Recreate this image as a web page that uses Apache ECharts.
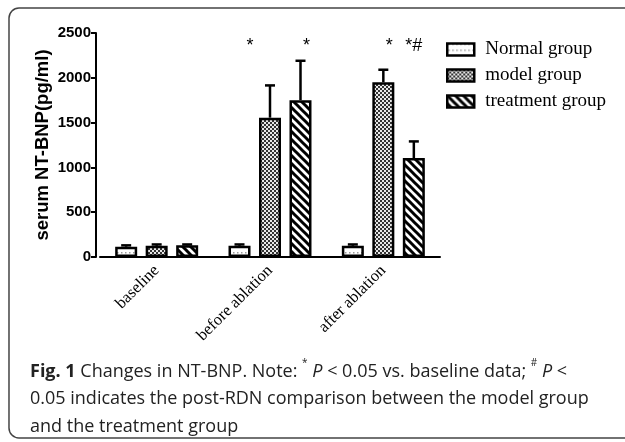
<!DOCTYPE html>
<html>
<head>
<meta charset="utf-8">
<script src="https://cdn.jsdelivr.net/npm/echarts@6/dist/echarts.min.js"></script>
<style>
    html, body { margin: 0; padding: 0; background: #fff; }
    #chart { width: 625px; height: 442px; }
</style>
</head>
<body>
<div id="chart"></div>
<script>
// data
var categories = ['baseline', 'before ablation', 'after ablation'];
var groupNames = ['Normal group', 'model group', 'treatment group'];
var normalMean = [115, 125, 125];
var normalErr = [15, 15, 15];
var modelMean = [125, 1555, 1950];
var modelErr = [15, 360, 140];
var treatMean = [130, 1750, 1105];
var treatErr = [10, 440, 185];
// significance marks, per category, per group
var sigNormal = ['', '', ''];
var sigModel = ['', '*', '*'];
var sigTreat = ['', '*', '*#'];
var yTicks = [0, 500, 1000, 1500, 2000, 2500];

function makePattern(w, h, draw) {
    var c = document.createElement('canvas');
    c.width = w;
    c.height = h;
    var ctx = c.getContext('2d');
    draw(ctx);
    return { image: c, repeat: 'repeat' };
}

var dotFill = makePattern(4, 6, function (ctx) {
    ctx.fillStyle = '#fff';
    ctx.fillRect(0, 0, 4, 6);
    ctx.fillStyle = '#999';
    ctx.fillRect(1, 0, 1.5, 1.5);
});

var checkFill = makePattern(4, 4, function (ctx) {
    ctx.fillStyle = '#e8e8e8';
    ctx.fillRect(0, 0, 4, 4);
    ctx.fillStyle = '#333';
    ctx.fillRect(0, 0, 2, 2);
    ctx.fillRect(2, 2, 2, 2);
});

var stripeFill = makePattern(8, 8, function (ctx) {
    ctx.fillStyle = '#fff';
    ctx.fillRect(0, 0, 8, 8);
    ctx.strokeStyle = '#000';
    ctx.lineWidth = 3;
    [-8, 0, 8].forEach(function (c) {
        ctx.beginPath();
        ctx.moveTo(-2, -2 + c);
        ctx.lineTo(10, 10 + c);
        ctx.stroke();
    });
});

var fills = [dotFill, checkFill, stripeFill];
var means = [normalMean, modelMean, treatMean];
var errs = [normalErr, modelErr, treatErr];
var sigs = [sigNormal, sigModel, sigTreat];
var barOffset = [-30.5, 0, 30.5];
var markShift = [[0, 0, 0], [0, -20, 6], [0, 6, 0]];

var chart = echarts.init(document.getElementById('chart'));

var series = [];
groupNames.forEach(function (name, s) {
    series.push({
        name: name,
        type: 'bar',
        barWidth: 22,
        barGap: '38.6%',
        data: means[s],
        itemStyle: { color: fills[s], borderColor: '#000', borderWidth: 2.5 },
        z: 2
    });
});

groupNames.forEach(function (name, s) {
    series.push({
        type: 'custom',
        z: 3,
        silent: true,
        data: means[s].map(function (m, i) { return [i, m, errs[s][i]]; }),
        renderItem: function (params, api) {
            var cat = api.value(0);
            var m = api.value(1);
            var e = api.value(2);
            var x = api.coord([cat, 0])[0] + barOffset[s];
            var yBase = api.coord([cat, m])[1];
            var yTop = api.coord([cat, m + e])[1];
            var st = { stroke: '#000', lineWidth: 2.5 };
            return {
                type: 'group',
                children: [
                    { type: 'line', shape: { x1: x, y1: yBase, x2: x, y2: yTop }, style: st },
                    { type: 'line', shape: { x1: x - 5, y1: yTop, x2: x + 5, y2: yTop }, style: st }
                ]
            };
        }
    });
});

// significance marks
groupNames.forEach(function (name, s) {
    series.push({
        type: 'custom',
        z: 4,
        silent: true,
        data: sigs[s].map(function (t, i) { return [i, 2350]; }),
        renderItem: function (params, api) {
            var cat = api.value(0);
            var p = api.coord([cat, api.value(1)]);
            var t = sigs[s][cat];
            if (!t) return null;
            return {
                type: 'text',
                x: p[0] + barOffset[s] + markShift[cat][s],
                y: p[1],
                style: {
                    text: t,
                    fill: '#000',
                    font: '18px "Liberation Sans", Arial, sans-serif',
                    align: 'center',
                    verticalAlign: 'middle'
                }
            };
        }
    });
});

var option = {
    animation: false,
    backgroundColor: '#fff',
    grid: { left: 100, right: 185, top: 33, bottom: 185 },
    legend: {
        data: groupNames,
        orient: 'vertical',
        left: 441,
        top: 35,
        icon: 'rect',
        itemWidth: 27,
        itemHeight: 12,
        itemGap: 7,
        itemStyle: { borderColor: '#000', borderWidth: 2.5 },
        textStyle: { fontFamily: '"Liberation Serif", "Times New Roman", serif', fontSize: 19, color: '#000', padding: [0, 0, 0, 6] }
    },
    xAxis: {
        type: 'category',
        data: categories,
        axisLine: { lineStyle: { color: '#000', width: 2 } },
        axisTick: { alignWithLabel: true, length: 7, lineStyle: { color: '#000', width: 2 } },
        axisLabel: {
            rotate: 45,
            margin: 11,
            color: '#000',
            fontFamily: '"Liberation Serif", "Times New Roman", serif',
            fontSize: 16.5
        }
    },
    yAxis: {
        type: 'value',
        min: yTicks[0],
        max: yTicks[yTicks.length - 1],
        interval: 500,
        offset: 4,
        name: 'serum NT-BNP(pg/ml)',
        nameLocation: 'middle',
        nameGap: 44,
        nameMoveOverlap: false,
        nameTextStyle: { fontFamily: '"Liberation Sans", Arial, sans-serif', fontWeight: 'bold', fontSize: 18.5, color: '#000' },
        splitLine: { show: false },
        axisLine: { show: true, lineStyle: { color: '#000', width: 2 } },
        axisTick: { show: true, length: 5, lineStyle: { color: '#000', width: 2 } },
        axisLabel: {
            margin: 5,
            color: '#000',
            fontFamily: '"Liberation Sans", Arial, sans-serif',
            fontWeight: 'bold',
            fontSize: 15,
            formatter: function (v) { return String(v); }
        }
    },
    title: {
        left: 25,
        top: 353,
        text: '{b|Fig. 1} Changes in NT-BNP. Note: {sup|*} {i|P} < 0.05 vs. baseline data; {sup|#} {i|P} <\n0.05 indicates the post-RDN comparison between the model group\nand the treatment group',
        textStyle: {
            fontFamily: '"Open Sans", sans-serif',
            fontSize: 18,
            fontWeight: 'normal',
            color: '#222',
            lineHeight: 27.5,
            rich: {
                b: { fontFamily: '"Open Sans", sans-serif', fontSize: 18, fontWeight: 'bold', color: '#222', lineHeight: 27.5 },
                i: { fontFamily: '"Open Sans", sans-serif', fontSize: 18, fontStyle: 'italic', color: '#222', lineHeight: 27.5 },
                sup: { fontFamily: '"Open Sans", sans-serif', fontSize: 10, color: '#222', verticalAlign: 'top', lineHeight: 22 }
            }
        }
    },
    graphic: [{
        type: 'rect',
        silent: true,
        shape: { x: 9, y: 8, width: 640, height: 430, r: 10 },
        style: { fill: 'none', stroke: '#444', lineWidth: 1.5 },
        z: -1
    }],
    series: series
};

chart.setOption(option);
</script>
</body>
</html>
